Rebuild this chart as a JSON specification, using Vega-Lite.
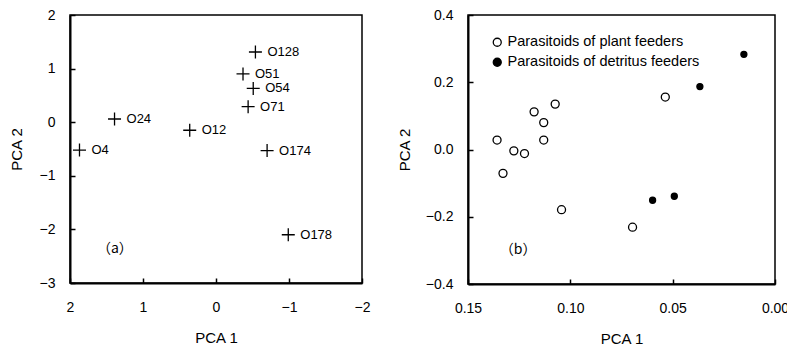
{
  "$schema": "https://vega.github.io/schema/vega-lite/v6.json",
  "background": "white",
  "padding": {"left": 8, "top": 7, "right": 8, "bottom": 5},
  "datasets": {
    "a": [
      {"label": "O128", "pc1": -0.54, "pc2": 1.31},
      {"label": "O51", "pc1": -0.37, "pc2": 0.90},
      {"label": "O54", "pc1": -0.51, "pc2": 0.63},
      {"label": "O71", "pc1": -0.44, "pc2": 0.29},
      {"label": "O24", "pc1": 1.39, "pc2": 0.06},
      {"label": "O12", "pc1": 0.36, "pc2": -0.15},
      {"label": "O4", "pc1": 1.87, "pc2": -0.52},
      {"label": "O174", "pc1": -0.70, "pc2": -0.53},
      {"label": "O178", "pc1": -0.99, "pc2": -2.10}
    ],
    "b": [
      {"group": "Parasitoids of plant feeders", "pc1": 0.1358, "pc2": 0.028},
      {"group": "Parasitoids of plant feeders", "pc1": 0.1329, "pc2": -0.071},
      {"group": "Parasitoids of plant feeders", "pc1": 0.1276, "pc2": -0.004},
      {"group": "Parasitoids of plant feeders", "pc1": 0.1224, "pc2": -0.012},
      {"group": "Parasitoids of plant feeders", "pc1": 0.1177, "pc2": 0.112},
      {"group": "Parasitoids of plant feeders", "pc1": 0.1130, "pc2": 0.080},
      {"group": "Parasitoids of plant feeders", "pc1": 0.1130, "pc2": 0.028},
      {"group": "Parasitoids of plant feeders", "pc1": 0.1074, "pc2": 0.135},
      {"group": "Parasitoids of plant feeders", "pc1": 0.1043, "pc2": -0.179},
      {"group": "Parasitoids of plant feeders", "pc1": 0.0536, "pc2": 0.156},
      {"group": "Parasitoids of plant feeders", "pc1": 0.0696, "pc2": -0.231},
      {"group": "Parasitoids of detritus feeders", "pc1": 0.0152, "pc2": 0.283},
      {"group": "Parasitoids of detritus feeders", "pc1": 0.0367, "pc2": 0.187},
      {"group": "Parasitoids of detritus feeders", "pc1": 0.0598, "pc2": -0.151},
      {"group": "Parasitoids of detritus feeders", "pc1": 0.0492, "pc2": -0.139}
    ],
    "tagA": [{"tag": "（a）", "pc1": 1.385, "pc2": -2.36}],
    "tagB": [{"tag": "（b）", "pc1": 0.1255, "pc2": -0.30}]
  },
  "config": {
    "view": {"stroke": "black", "strokeWidth": 1.5},
    "axis": {
      "domainColor": "black", "domainWidth": 2,
      "tickColor": "black", "tickSize": -5, "tickWidth": 1.5,
      "labelFont": "Liberation Sans", "labelFontSize": 14, "labelColor": "black",
      "titleFont": "Liberation Sans", "titleFontSize": 15, "titleFontWeight": "normal", "titleColor": "black",
      "grid": false, "labelFlush": false, "labelOverlap": false
    },
    "axisX": {"labelPadding": 22, "titlePadding": 16},
    "axisY": {"labelPadding": 20},
    "concat": {"spacing": 25},
    "legend": {
      "orient": "none", "legendX": 420, "legendY": 20, "padding": 0,
      "labelFont": "Liberation Sans", "labelFontSize": 14.5, "labelColor": "black",
      "labelOffset": 3, "rowPadding": 5, "labelLimit": 400,
      "symbolStrokeColor": "black", "symbolStrokeWidth": 1.3, "symbolSize": 64
    }
  },
  "hconcat": [
    {
      "width": 292, "height": 268,
      "encoding": {
        "x": {"field": "pc1", "type": "quantitative", "title": "PCA 1",
              "scale": {"domain": [-2, 2], "reverse": true, "nice": false},
              "axis": {"values": [-2, -1, 0, 1, 2], "format": "d"}},
        "y": {"field": "pc2", "type": "quantitative", "title": "PCA 2",
              "scale": {"domain": [-3, 2], "nice": false},
              "axis": {"values": [-3, -2, -1, 0, 1, 2], "format": "d", "titlePadding": 15}}
      },
      "layer": [
        {"data": {"name": "a"},
         "mark": {"type": "point", "shape": "M-1,0H1M0,-1V1", "size": 169, "stroke": "black", "strokeWidth": 1.3, "filled": false, "opacity": 1}},
        {"data": {"name": "a"},
         "mark": {"type": "text", "align": "left", "baseline": "middle", "dx": 12, "font": "Liberation Sans", "fontSize": 13, "color": "black"},
         "encoding": {"text": {"field": "label"}}},
        {"data": {"name": "tagA"},
         "mark": {"type": "text", "align": "center", "baseline": "middle", "font": "Noto Sans CJK JP", "fontSize": 14, "color": "black"},
         "encoding": {"text": {"field": "tag"}}}
      ]
    },
    {
      "width": 307, "height": 269,
      "encoding": {
        "x": {"field": "pc1", "type": "quantitative", "title": "PCA 1",
              "scale": {"domain": [0, 0.15], "reverse": true, "nice": false},
              "axis": {"values": [0, 0.05, 0.1, 0.15], "format": ".2f"}},
        "y": {"field": "pc2", "type": "quantitative", "title": "PCA 2",
              "scale": {"domain": [-0.4, 0.4], "nice": false},
              "axis": {"values": [-0.4, -0.2, 0, 0.2, 0.4], "format": ".1f", "titlePadding": 13}}
      },
      "layer": [
        {"data": {"name": "b"},
         "mark": {"type": "point", "shape": "circle", "stroke": "black", "strokeWidth": 1.3, "opacity": 1},
         "encoding": {
           "fill": {"field": "group", "type": "nominal", "title": null,
                    "scale": {"domain": ["Parasitoids of plant feeders", "Parasitoids of detritus feeders"], "range": ["white", "black"]},
                    "legend": {"symbolStrokeColor": "black", "symbolStrokeWidth": 1.3}},
           "size": {"field": "group", "type": "ordinal", "legend": null,
                    "scale": {"domain": ["Parasitoids of detritus feeders", "Parasitoids of plant feeders"], "range": [36, 64]}}
         }},
        {"data": {"name": "tagB"},
         "mark": {"type": "text", "align": "center", "baseline": "middle", "font": "Noto Sans CJK JP", "fontSize": 14, "color": "black"},
         "encoding": {"text": {"field": "tag"}}}
      ]
    }
  ]
}
